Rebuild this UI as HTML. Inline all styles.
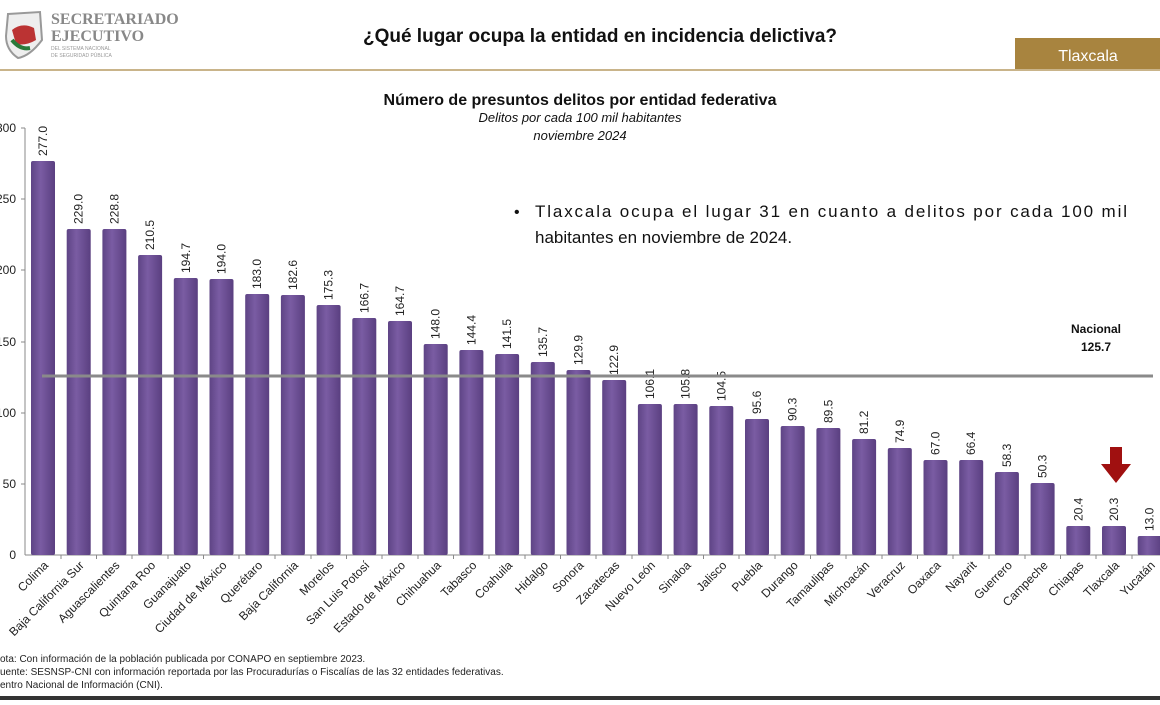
<!DOCTYPE html>
<html><head><meta charset="utf-8"><style>
body{margin:0;width:1160px;height:700px;overflow:hidden;background:#fff;font-family:"Liberation Sans",Arial,sans-serif}
</style></head><body>
<svg width="1160" height="700" xmlns="http://www.w3.org/2000/svg" font-family="Liberation Sans, Arial, sans-serif">
<defs>
<linearGradient id="bg" x1="0" x2="1" y1="0" y2="0">
<stop offset="0" stop-color="#5e4485"/><stop offset="0.4" stop-color="#7a5ca3"/><stop offset="1" stop-color="#5a3f80"/>
</linearGradient>
</defs>
<path d="M8 14 L40 12 L42 40 Q30 56 18 58 Q6 50 6 36 Z" fill="#eee" stroke="#999" stroke-width="2"/>
<path d="M12 30 Q22 22 34 28 L36 40 Q26 46 16 44 Z" fill="#b33"/>
<path d="M12 40 Q20 50 30 48" stroke="#2a7a3a" stroke-width="4" fill="none"/>
<text x="51" y="24" font-family="Liberation Serif, serif" font-weight="bold" font-size="16" fill="#888">SECRETARIADO</text>
<text x="51" y="41" font-family="Liberation Serif, serif" font-weight="bold" font-size="16" fill="#888">EJECUTIVO</text>
<text x="51" y="50" font-size="5" fill="#999">DEL SISTEMA NACIONAL</text>
<text x="51" y="57" font-size="5" fill="#999">DE SEGURIDAD PÚBLICA</text>
<text x="600" y="42" text-anchor="middle" font-weight="bold" font-size="19" fill="#111">¿Qué lugar ocupa la entidad en incidencia delictiva?</text>
<rect x="1015" y="38" width="145" height="32" fill="#a8843f"/>
<text x="1088" y="61" text-anchor="middle" font-size="16" fill="#fff">Tlaxcala</text>
<rect x="0" y="69" width="1160" height="2" fill="#c9b48a"/>
<text x="580" y="105" text-anchor="middle" font-weight="bold" font-size="16" fill="#111">Número de presuntos delitos por entidad federativa</text>
<text x="580" y="122" text-anchor="middle" font-style="italic" font-size="13" fill="#111">Delitos por cada 100 mil habitantes</text>
<text x="580" y="140" text-anchor="middle" font-style="italic" font-size="13" fill="#111">noviembre 2024</text>
<g font-size="12" fill="#222" text-anchor="end">
<text x="16" y="132">300</text><text x="16" y="203">250</text><text x="16" y="274">200</text>
<text x="16" y="346">150</text><text x="16" y="417">100</text><text x="16" y="488">50</text><text x="16" y="559">0</text>
</g>
<line x1="25" y1="128" x2="25" y2="555" stroke="#888"/>
<line x1="25" y1="555" x2="1160" y2="555" stroke="#888"/>
<g stroke="#888"><line x1="21" y1="128" x2="25" y2="128"/><line x1="21" y1="199" x2="25" y2="199"/><line x1="21" y1="270" x2="25" y2="270"/><line x1="21" y1="342" x2="25" y2="342"/><line x1="21" y1="413" x2="25" y2="413"/><line x1="21" y1="484" x2="25" y2="484"/></g>

<g font-size="12" fill="#222">
<g transform="translate(43,0)"><rect x="-12" y="161" width="24" height="394" rx="2" fill="url(#bg)"/><text transform="translate(4,156) rotate(-90)">277.0</text><text transform="translate(6,566) rotate(-45)" text-anchor="end">Colima</text></g>
<g transform="translate(78.7,0)"><rect x="-12" y="229" width="24" height="326" rx="2" fill="url(#bg)"/><text transform="translate(4,224) rotate(-90)">229.0</text><text transform="translate(6,566) rotate(-45)" text-anchor="end">Baja California Sur</text></g>
<g transform="translate(114.4,0)"><rect x="-12" y="229" width="24" height="326" rx="2" fill="url(#bg)"/><text transform="translate(4,224) rotate(-90)">228.8</text><text transform="translate(6,566) rotate(-45)" text-anchor="end">Aguascalientes</text></g>
<g transform="translate(150.1,0)"><rect x="-12" y="255" width="24" height="300" rx="2" fill="url(#bg)"/><text transform="translate(4,250) rotate(-90)">210.5</text><text transform="translate(6,566) rotate(-45)" text-anchor="end">Quintana Roo</text></g>
<g transform="translate(185.8,0)"><rect x="-12" y="278" width="24" height="277" rx="2" fill="url(#bg)"/><text transform="translate(4,273) rotate(-90)">194.7</text><text transform="translate(6,566) rotate(-45)" text-anchor="end">Guanajuato</text></g>
<g transform="translate(221.5,0)"><rect x="-12" y="279" width="24" height="276" rx="2" fill="url(#bg)"/><text transform="translate(4,274) rotate(-90)">194.0</text><text transform="translate(6,566) rotate(-45)" text-anchor="end">Ciudad de México</text></g>
<g transform="translate(257.2,0)"><rect x="-12" y="294" width="24" height="261" rx="2" fill="url(#bg)"/><text transform="translate(4,289) rotate(-90)">183.0</text><text transform="translate(6,566) rotate(-45)" text-anchor="end">Querétaro</text></g>
<g transform="translate(292.9,0)"><rect x="-12" y="295" width="24" height="260" rx="2" fill="url(#bg)"/><text transform="translate(4,290) rotate(-90)">182.6</text><text transform="translate(6,566) rotate(-45)" text-anchor="end">Baja California</text></g>
<g transform="translate(328.6,0)"><rect x="-12" y="305" width="24" height="250" rx="2" fill="url(#bg)"/><text transform="translate(4,300) rotate(-90)">175.3</text><text transform="translate(6,566) rotate(-45)" text-anchor="end">Morelos</text></g>
<g transform="translate(364.3,0)"><rect x="-12" y="318" width="24" height="237" rx="2" fill="url(#bg)"/><text transform="translate(4,313) rotate(-90)">166.7</text><text transform="translate(6,566) rotate(-45)" text-anchor="end">San Luis Potosí</text></g>
<g transform="translate(400,0)"><rect x="-12" y="321" width="24" height="234" rx="2" fill="url(#bg)"/><text transform="translate(4,316) rotate(-90)">164.7</text><text transform="translate(6,566) rotate(-45)" text-anchor="end">Estado de México</text></g>
<g transform="translate(435.7,0)"><rect x="-12" y="344" width="24" height="211" rx="2" fill="url(#bg)"/><text transform="translate(4,339) rotate(-90)">148.0</text><text transform="translate(6,566) rotate(-45)" text-anchor="end">Chihuahua</text></g>
<g transform="translate(471.4,0)"><rect x="-12" y="350" width="24" height="205" rx="2" fill="url(#bg)"/><text transform="translate(4,345) rotate(-90)">144.4</text><text transform="translate(6,566) rotate(-45)" text-anchor="end">Tabasco</text></g>
<g transform="translate(507.1,0)"><rect x="-12" y="354" width="24" height="201" rx="2" fill="url(#bg)"/><text transform="translate(4,349) rotate(-90)">141.5</text><text transform="translate(6,566) rotate(-45)" text-anchor="end">Coahuila</text></g>
<g transform="translate(542.8,0)"><rect x="-12" y="362" width="24" height="193" rx="2" fill="url(#bg)"/><text transform="translate(4,357) rotate(-90)">135.7</text><text transform="translate(6,566) rotate(-45)" text-anchor="end">Hidalgo</text></g>
<g transform="translate(578.5,0)"><rect x="-12" y="370" width="24" height="185" rx="2" fill="url(#bg)"/><text transform="translate(4,365) rotate(-90)">129.9</text><text transform="translate(6,566) rotate(-45)" text-anchor="end">Sonora</text></g>
<g transform="translate(614.2,0)"><rect x="-12" y="380" width="24" height="175" rx="2" fill="url(#bg)"/><text transform="translate(4,375) rotate(-90)">122.9</text><text transform="translate(6,566) rotate(-45)" text-anchor="end">Zacatecas</text></g>
<g transform="translate(649.9,0)"><rect x="-12" y="404" width="24" height="151" rx="2" fill="url(#bg)"/><text transform="translate(4,399) rotate(-90)">106.1</text><text transform="translate(6,566) rotate(-45)" text-anchor="end">Nuevo León</text></g>
<g transform="translate(685.6,0)"><rect x="-12" y="404" width="24" height="151" rx="2" fill="url(#bg)"/><text transform="translate(4,399) rotate(-90)">105.8</text><text transform="translate(6,566) rotate(-45)" text-anchor="end">Sinaloa</text></g>
<g transform="translate(721.3,0)"><rect x="-12" y="406" width="24" height="149" rx="2" fill="url(#bg)"/><text transform="translate(4,401) rotate(-90)">104.5</text><text transform="translate(6,566) rotate(-45)" text-anchor="end">Jalisco</text></g>
<g transform="translate(757,0)"><rect x="-12" y="419" width="24" height="136" rx="2" fill="url(#bg)"/><text transform="translate(4,414) rotate(-90)">95.6</text><text transform="translate(6,566) rotate(-45)" text-anchor="end">Puebla</text></g>
<g transform="translate(792.7,0)"><rect x="-12" y="426" width="24" height="129" rx="2" fill="url(#bg)"/><text transform="translate(4,421) rotate(-90)">90.3</text><text transform="translate(6,566) rotate(-45)" text-anchor="end">Durango</text></g>
<g transform="translate(828.4,0)"><rect x="-12" y="428" width="24" height="127" rx="2" fill="url(#bg)"/><text transform="translate(4,423) rotate(-90)">89.5</text><text transform="translate(6,566) rotate(-45)" text-anchor="end">Tamaulipas</text></g>
<g transform="translate(864.1,0)"><rect x="-12" y="439" width="24" height="116" rx="2" fill="url(#bg)"/><text transform="translate(4,434) rotate(-90)">81.2</text><text transform="translate(6,566) rotate(-45)" text-anchor="end">Michoacán</text></g>
<g transform="translate(899.8,0)"><rect x="-12" y="448" width="24" height="107" rx="2" fill="url(#bg)"/><text transform="translate(4,443) rotate(-90)">74.9</text><text transform="translate(6,566) rotate(-45)" text-anchor="end">Veracruz</text></g>
<g transform="translate(935.5,0)"><rect x="-12" y="460" width="24" height="95" rx="2" fill="url(#bg)"/><text transform="translate(4,455) rotate(-90)">67.0</text><text transform="translate(6,566) rotate(-45)" text-anchor="end">Oaxaca</text></g>
<g transform="translate(971.2,0)"><rect x="-12" y="460" width="24" height="95" rx="2" fill="url(#bg)"/><text transform="translate(4,455) rotate(-90)">66.4</text><text transform="translate(6,566) rotate(-45)" text-anchor="end">Nayarit</text></g>
<g transform="translate(1006.9,0)"><rect x="-12" y="472" width="24" height="83" rx="2" fill="url(#bg)"/><text transform="translate(4,467) rotate(-90)">58.3</text><text transform="translate(6,566) rotate(-45)" text-anchor="end">Guerrero</text></g>
<g transform="translate(1042.6,0)"><rect x="-12" y="483" width="24" height="72" rx="2" fill="url(#bg)"/><text transform="translate(4,478) rotate(-90)">50.3</text><text transform="translate(6,566) rotate(-45)" text-anchor="end">Campeche</text></g>
<g transform="translate(1078.3,0)"><rect x="-12" y="526" width="24" height="29" rx="2" fill="url(#bg)"/><text transform="translate(4,521) rotate(-90)">20.4</text><text transform="translate(6,566) rotate(-45)" text-anchor="end">Chiapas</text></g>
<g transform="translate(1114,0)"><rect x="-12" y="526" width="24" height="29" rx="2" fill="url(#bg)"/><text transform="translate(4,521) rotate(-90)">20.3</text><text transform="translate(6,566) rotate(-45)" text-anchor="end">Tlaxcala</text></g>
<g transform="translate(1149.7,0)"><rect x="-12" y="536" width="24" height="19" rx="2" fill="url(#bg)"/><text transform="translate(4,531) rotate(-90)">13.0</text><text transform="translate(6,566) rotate(-45)" text-anchor="end">Yucatán</text></g>
</g>
<g stroke="#888">
<line x1="61" y1="555" x2="61" y2="559"/><line x1="96.5" y1="555" x2="96.5" y2="559"/><line x1="132" y1="555" x2="132" y2="559"/><line x1="168" y1="555" x2="168" y2="559"/><line x1="203.5" y1="555" x2="203.5" y2="559"/><line x1="239" y1="555" x2="239" y2="559"/><line x1="275" y1="555" x2="275" y2="559"/><line x1="311" y1="555" x2="311" y2="559"/><line x1="346.5" y1="555" x2="346.5" y2="559"/><line x1="382" y1="555" x2="382" y2="559"/><line x1="418" y1="555" x2="418" y2="559"/><line x1="453.5" y1="555" x2="453.5" y2="559"/><line x1="489" y1="555" x2="489" y2="559"/><line x1="525" y1="555" x2="525" y2="559"/><line x1="560.5" y1="555" x2="560.5" y2="559"/><line x1="596" y1="555" x2="596" y2="559"/><line x1="632" y1="555" x2="632" y2="559"/><line x1="668" y1="555" x2="668" y2="559"/><line x1="703.5" y1="555" x2="703.5" y2="559"/><line x1="739" y1="555" x2="739" y2="559"/><line x1="775" y1="555" x2="775" y2="559"/><line x1="810.5" y1="555" x2="810.5" y2="559"/><line x1="846" y1="555" x2="846" y2="559"/><line x1="882" y1="555" x2="882" y2="559"/><line x1="917.5" y1="555" x2="917.5" y2="559"/><line x1="953" y1="555" x2="953" y2="559"/><line x1="989" y1="555" x2="989" y2="559"/><line x1="1025" y1="555" x2="1025" y2="559"/><line x1="1060.5" y1="555" x2="1060.5" y2="559"/><line x1="1096" y1="555" x2="1096" y2="559"/><line x1="1132" y1="555" x2="1132" y2="559"/>
</g>
<line x1="42" y1="376" x2="1153" y2="376" stroke="#8a8a8a" stroke-width="3"/>
<text x="1096" y="333" text-anchor="middle" font-weight="bold" font-size="12" fill="#111">Nacional</text>
<text x="1096" y="351" text-anchor="middle" font-weight="bold" font-size="12" fill="#111">125.7</text>
<text x="514" y="217" font-size="16" fill="#111">•</text>
<text x="535" y="217" font-size="17" fill="#111" textLength="592" lengthAdjust="spacing">Tlaxcala ocupa el lugar 31 en cuanto a delitos por cada 100 mil</text>
<text x="535" y="243" font-size="17" fill="#111">habitantes en noviembre de 2024.</text>
<path d="M1110 447 L1122 447 L1122 464 L1131 464 L1116 483 L1101 464 L1110 464 Z" fill="#a01010"/>
<g font-size="10" fill="#222">
<text x="0" y="662">ota: Con información de la población publicada por CONAPO en septiembre 2023.</text>
<text x="0" y="675">uente: SESNSP-CNI con información reportada por las Procuradurías o Fiscalías de las 32 entidades federativas.</text>
<text x="0" y="688">entro Nacional de Información (CNI).</text>
</g>
<rect x="0" y="696" width="1160" height="4" fill="#333"/>
</svg>
</body></html>
